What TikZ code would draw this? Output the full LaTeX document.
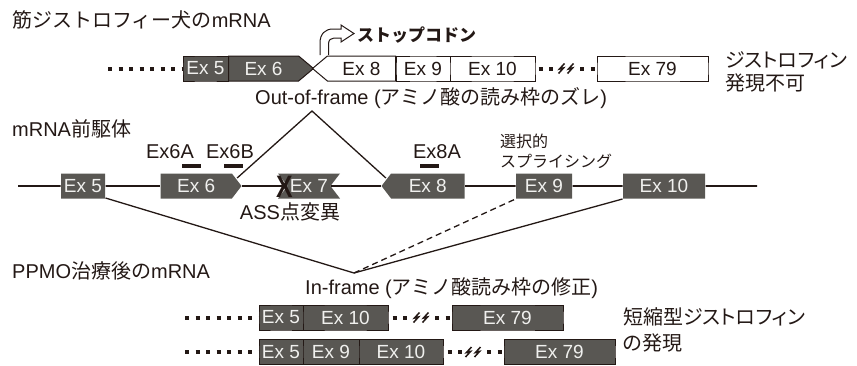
\documentclass[tikz,border=0pt]{standalone}
\usepackage{fontspec}
\usepackage{xcolor}
\usepackage{tikz}
\usetikzlibrary{shapes.symbols}
\setmainfont{Liberation Sans}
\newfontfamily\jp{Noto Sans CJK JP}
\newfontfamily\jpp[RawFeature=+palt]{Noto Sans CJK JP}
\definecolor{ink}{RGB}{35,24,21}
\definecolor{exon-gray}{RGB}{89,87,83}
\definecolor{exon-text}{RGB}{240,240,238}

\tikzset{
  exon/.style={shape=signal, signal to=nowhere, signal pointer angle=105, draw=ink, line width=1pt, fill=exon-gray, text=exon-text, inner sep=0pt, minimum height=25pt, font=\fontsize{19}{19}\selectfont},
  exonw/.style={exon, fill=white, text=ink},
  exonp/.style={exon, draw=none},
  lbl/.style={text=ink, inner sep=0pt, font=\fontsize{20}{24}\selectfont},
  bar/.style={fill=ink, inner sep=0pt, minimum width=19pt, minimum height=4pt},
  dots/.style={draw=ink, line width=4pt, dash pattern=on 4pt off 6.5pt},
  splice/.style={draw=ink, line width=1.3pt},
  zig/.pic={\foreach \d in {-4.5,4.5} \draw[ink, line width=1.5pt] ({\d+3},-5) -- ({\d-2},0.5) -- ({\d+2},-0.5) -- ({\d-3},5);},
}

\begin{document}
\begin{tikzpicture}[x=1pt, y=-1pt]
    \useasboundingbox (0,0) rectangle (857,365);

    % dog mRNA
    \node[lbl, anchor=west] (dogmrna) at (12,20) {{\jp 筋ジストロフィー犬の}mRNA};
    \coordinate (tdot) at (108,68.5);
    \node[exon, minimum width=45pt] (t5) at (205.5,68.5) {Ex 5};
    \node[exon, signal to=east, signal pointer angle=80, minimum width=85pt, anchor=west] (t6) at (228,68.5) {Ex 6};
    \node[exonw, signal to=west, signal pointer angle=80, minimum width=83pt, anchor=east] (t8) at (396,68.5) {Ex 8};
    \node[exonw, minimum width=54pt] (t9) at (423,68.5) {Ex 9};
    \node[exonw, minimum width=85pt] (t10) at (492.5,68.5) {Ex 10};
    \node[exonw, minimum width=111pt] (t79) at (652.5,68.5) {Ex 79};
    \coordinate (tbrk) at (566,68.5);
    \draw[dots] (tdot) -- (t5.west);
    \draw[dots] ([xshift=3]t10.east) -- ([xshift=-10]tbrk);
    \draw[dots] ([xshift=14]tbrk) -- ([xshift=-2]t79.west);
    \pic at (tbrk) {zig};

    \draw[ink, line width=1pt, fill=white] (320,55) -- (320,43) .. controls (320,34) and (325,29) .. (333,29) -- (341,29) -- (341,25) -- (354,33.5) -- (341,42) -- (341,38) -- (334,38) .. controls (331,38) and (328.5,40) .. (328.5,44) -- (328.5,55);
    \node[lbl, anchor=west, font=\fontsize{17}{17}\selectfont\jp\bfseries] (stop) at (357,35) {ストップコドン};
    \node[lbl, anchor=west, align=left, font=\fontsize{20}{23}\selectfont\jpp] (noexp) at (725,72) {ジストロフィン\\発現不可};
    \node[lbl, anchor=west] (outf) at (255,98) {Out-of-frame ({\jp アミノ酸の読み枠のズレ})};

    % pre-mRNA
    \node[lbl, anchor=west] (pre) at (12,129) {mRNA{\jp 前駆体}};
    \coordinate (ls) at (18,186);
    \coordinate (le) at (757,186);
    \node[exonp, minimum width=44pt] (p5) at (83,186) {Ex 5};
    \node[exonp, signal to=east, minimum width=81pt, anchor=west] (p6) at (160,186) {Ex 6};
    \node[exonp, signal from=west and east, minimum width=62pt] (p7) at (309,186) {Ex 7};
    \node[exonp, signal to=west, minimum width=83pt, anchor=east] (p8) at (465,186) {Ex 8};
    \node[exonp, minimum width=56pt] (p9) at (544,186) {Ex 9};
    \node[exonp, minimum width=82pt] (p10) at (664,186) {Ex 10};
    \draw[ink, line width=1.6pt] (ls) -- (p5) -- (p6) -- (p7) -- (p8) -- (p9) -- (p10) -- (le);

    \node[bar] (b6a) at (191.5,166) {};
    \node[bar] (b6b) at (233,166) {};
    \node[bar] (b8a) at (429.5,166) {};
    \node[lbl] (l6a) at (170,152) {Ex6A};
    \node[lbl] (l6b) at (230,152) {Ex6B};
    \node[lbl] (l8a) at (437,152) {Ex8A};
    \node[text=ink, inner sep=0pt, font=\fontsize{31}{31}\selectfont\bfseries, xscale=0.8, transform shape] (mut) at (284.5,187) {X};
    \node[lbl] (ass) at (290,212) {ASS{\jp 点変異}};
    \node[lbl, anchor=west, align=left, font=\fontsize{16}{20}\selectfont\jp] (alt) at (500,151) {選択的\\スプライシング};

    \coordinate (outtop) at (312,111);
    \coordinate (inbot) at (354,273);
    \draw[splice] ([shift={(-5,-8)}]p6.east) -- (outtop) -- ([shift={(5,-8)}]p8.west);
    \draw[splice] (p5.south east) -- (inbot) -- (p10.south west);
    \draw[splice, dash pattern=on 6pt off 4pt] (inbot) -- (p9.south west);

    % after PPMO
    \node[lbl, anchor=west] (ppmo) at (12,271) {PPMO{\jp 治療後の}mRNA};
    \node[lbl, anchor=west] (inf) at (305,288) {In-frame ({\jp アミノ酸読み枠の修正})};

    \coordinate (adot) at (185,317.5);
    \node[exon, minimum width=44pt] (a5) at (281,317.5) {Ex 5};
    \node[exon, minimum width=85pt] (a10) at (345.5,317.5) {Ex 10};
    \node[exon, minimum width=111pt] (a79) at (507.5,317.5) {Ex 79};
    \coordinate (abrk) at (421,317.5);
    \draw[dots] (adot) -- (a5.west);
    \draw[dots] ([xshift=4]a10.east) -- ([xshift=-10]abrk);
    \draw[dots] ([xshift=14]abrk) -- ([xshift=-2]a79.west);
    \pic at (abrk) {zig};

    \coordinate (bdot) at (185,352);
    \node[exon, minimum width=44pt] (b5) at (281,352) {Ex 5};
    \node[exon, minimum width=56pt] (b9) at (331,352) {Ex 9};
    \node[exon, minimum width=84pt] (b10) at (401,352) {Ex 10};
    \node[exon, minimum width=111pt] (b79) at (559.5,352) {Ex 79};
    \coordinate (bbrk) at (473,352);
    \draw[dots] (bdot) -- (b5.west);
    \draw[dots] ([xshift=4]b10.east) -- ([xshift=-10]bbrk);
    \draw[dots] ([xshift=14]bbrk) -- ([xshift=-2]b79.west);
    \pic at (bbrk) {zig};

    \node[lbl, anchor=west, align=left, font=\fontsize{20}{26}\selectfont\jpp] (short) at (623,330) {短縮型ジストロフィン\\の発現};
\end{tikzpicture}
\end{document}
